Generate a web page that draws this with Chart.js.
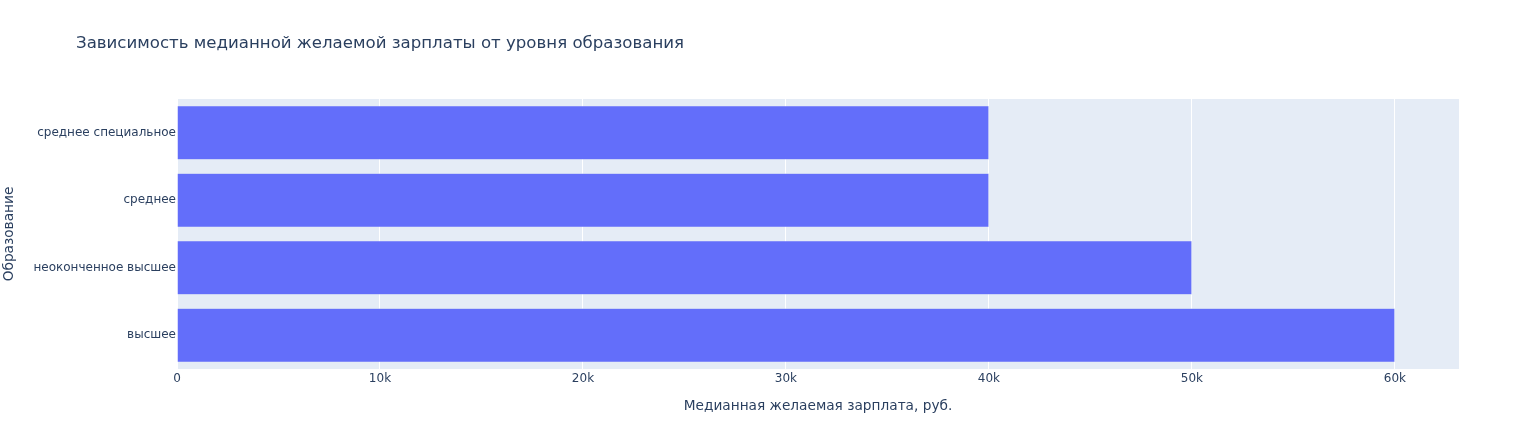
<!DOCTYPE html>
<html>
<head>
<meta charset="utf-8">
<script src="https://cdn.jsdelivr.net/npm/chart.js@4"></script>
<style>
  html, body { margin: 0; padding: 0; background: #fff; }
  #wrap { position: relative; width: 1538px; height: 448px; }
  #title {
    position: absolute; left: 76px; top: 33px;
    font: 16.6px "DejaVu Sans", sans-serif; color: #2a3f5f; white-space: nowrap;
  }
</style>
</head>
<body>
<div id="wrap">
  <div id="title">Зависимость медианной желаемой зарплаты от уровня образования</div>
  <canvas id="chart" width="1538" height="448"></canvas>
</div>
<script>
// данные
const categories = ['среднее специальное', 'среднее', 'неоконченное высшее', 'высшее'];
const salaries = [40000, 40000, 50000, 60000];
const xTicks = [0, 10000, 20000, 30000, 40000, 50000, 60000];
const xMax = 63158;

const FONT = '"DejaVu Sans", sans-serif';
const TEXT = '#2a3f5f';

// фон области графика
const plotBg = {
  id: 'plotBg',
  beforeDraw(chart) {
    const a = chart.chartArea;
    const c = chart.ctx;
    c.save();
    c.fillStyle = '#e5ecf6';
    c.fillRect(a.left, a.top, a.right - a.left, a.bottom - a.top);
    c.restore();
  }
};

new Chart(document.getElementById('chart'), {
  type: 'bar',
  data: {
    labels: categories,
    datasets: [{
      data: salaries,
      backgroundColor: '#636efa',
      borderColor: '#e5ecf6',
      borderWidth: 0.5,
      barPercentage: 0.8,
      categoryPercentage: 1
    }]
  },
  options: {
    indexAxis: 'y',
    responsive: false,
    animation: false,
    layout: { padding: { left: 0, right: 79, top: 99, bottom: 0 } },
    plugins: { legend: { display: false }, tooltip: { enabled: false } },
    scales: {
      x: {
        min: 0,
        max: xMax,
        afterFit(s) { s.height = 79; },
        afterBuildTicks(s) { s.ticks = xTicks.map(v => ({ value: v })); },
        grid: { color: '#ffffff', lineWidth: 1, drawTicks: false },
        border: { display: false },
        ticks: {
          padding: 3,
          color: TEXT,
          font: { family: FONT, size: 12 },
          callback: v => v === 0 ? '0' : (v / 1000) + 'k'
        },
        title: {
          display: true,
          text: 'Медианная желаемая зарплата, руб.',
          color: TEXT,
          font: { family: FONT, size: 13.7 },
          padding: { top: 4, bottom: 33 }
        }
      },
      y: {
        afterFit(s) { s.width = 177; },
        grid: { display: false, drawTicks: false },
        border: { display: false },
        ticks: {
          padding: 1,
          color: TEXT,
          font: { family: FONT, size: 12 }
        },
        title: {
          display: true,
          text: 'Образование',
          color: TEXT,
          font: { family: FONT, size: 13.7 },
          padding: { top: 1, bottom: 0 }
        }
      }
    }
  },
  plugins: [plotBg]
});
</script>
</body>
</html>
